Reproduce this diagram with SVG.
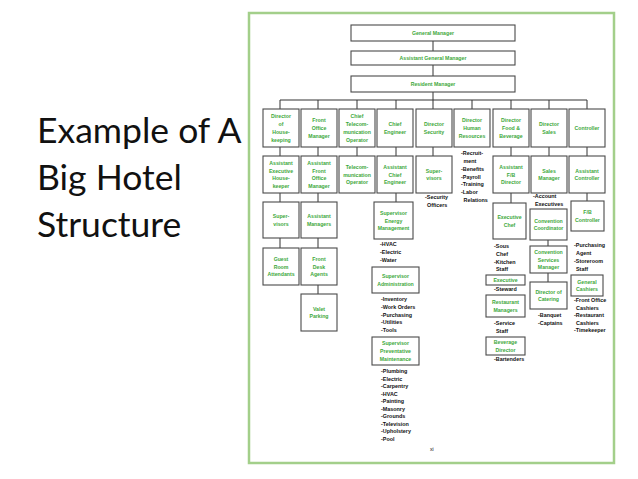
<svg xmlns="http://www.w3.org/2000/svg" width="638" height="479" viewBox="0 0 638 479">
<style>
.bx{fill:#fff;stroke:#4a4a4a;stroke-width:1.1}
.t{font-family:"Liberation Sans",Arial,sans-serif;font-size:5.2px;fill:#3da83a;text-anchor:middle;font-weight:bold}
.l{font-family:"Liberation Sans",Arial,sans-serif;font-size:5.4px;fill:#111;font-weight:bold}
.c{stroke:#333;stroke-width:1;fill:none}
.title{font-family:"Lato","Open Sans",sans-serif;font-size:35.5px;fill:#111}
</style>
<rect width="638" height="479" fill="#fff"/>
<g id="title">
<text class="title" x="37" y="143">Example of A</text>
<text class="title" x="37" y="190">Big Hotel</text>
<text class="title" x="37" y="237">Structure</text>
</g>
<rect id="frame" x="249" y="13" width="365" height="450" fill="none" stroke="#a3cf8a" stroke-width="2.5"/>
<g id="connectors">
<path class="c" d="M433 41V51M433 65V76M433 92V100M280 100H587M280 100V109M318 100V109M357 100V109M396 100V109M433 100V109M472 100V109M511 100V109M549 100V109M587 100V109"/>
<path class="c" d="M280 147V156M318 147V156M357 147V156M396 147V156M433 147V156M511 147V156M549 147V156M587 147V156"/>
<path class="c" d="M280 193V202M318 193V202M396 193V202M511 193V203M587 193V201"/>
<path class="c" d="M280 238V248M318 238V248M318 285V294M548 240V246M548 273V282"/>
</g>
<g id="gm"><rect class="bx" x="351" y="25" width="164" height="16"/><text class="t" x="433" y="35">General Manager</text></g>
<g id="agm"><rect class="bx" x="351" y="51" width="164" height="14"/><text class="t" x="433" y="60">Assistant General Manager</text></g>
<g id="rm"><rect class="bx" x="351" y="76" width="164" height="16"/><text class="t" x="433" y="86">Resident Manager</text></g>

<g id="dir-housekeeping"><rect class="bx" x="263" y="109" width="36" height="38"/><text class="t" x="281"><tspan x="281" y="118.3">Director</tspan><tspan x="281" y="126.1">of</tspan><tspan x="281" y="133.9">House-</tspan><tspan x="281" y="141.7">keeping</tspan></text></g>
<g id="fo-manager"><rect class="bx" x="301" y="109" width="36" height="38"/><text class="t"><tspan x="319" y="122.2">Front</tspan><tspan x="319" y="130">Office</tspan><tspan x="319" y="137.8">Manager</tspan></text></g>
<g id="chief-telecom"><rect class="bx" x="339" y="109" width="36" height="38"/><text class="t"><tspan x="357" y="118.3">Chief</tspan><tspan x="357" y="126.1">Telecom-</tspan><tspan x="357" y="133.9">munication</tspan><tspan x="357" y="141.7">Operator</tspan></text></g>
<g id="chief-engineer"><rect class="bx" x="377" y="109" width="36" height="38"/><text class="t"><tspan x="395" y="126.1">Chief</tspan><tspan x="395" y="133.9">Engineer</tspan></text></g>
<g id="dir-security"><rect class="bx" x="416" y="109" width="36" height="38"/><text class="t"><tspan x="434" y="126.1">Director</tspan><tspan x="434" y="133.9">Security</tspan></text></g>
<g id="dir-hr"><rect class="bx" x="454" y="109" width="36" height="38"/><text class="t"><tspan x="472" y="122.2">Director</tspan><tspan x="472" y="130">Human</tspan><tspan x="472" y="137.8">Resources</tspan></text></g>
<g id="dir-fb"><rect class="bx" x="493" y="109" width="36" height="38"/><text class="t"><tspan x="511" y="122.2">Director</tspan><tspan x="511" y="130">Food &amp;</tspan><tspan x="511" y="137.8">Beverage</tspan></text></g>
<g id="dir-sales"><rect class="bx" x="531" y="109" width="36" height="38"/><text class="t"><tspan x="549" y="126.1">Director</tspan><tspan x="549" y="133.9">Sales</tspan></text></g>
<g id="controller"><rect class="bx" x="569" y="109" width="36" height="38"/><text class="t" x="587" y="130">Controller</text></g>

<g id="asst-exec-hk"><rect class="bx" x="263" y="156" width="36" height="37"/><text class="t"><tspan x="281" y="164.8">Assistant</tspan><tspan x="281" y="172.6">Executive</tspan><tspan x="281" y="180.4">House-</tspan><tspan x="281" y="188.2">keeper</tspan></text></g>
<g id="asst-fo-manager"><rect class="bx" x="301" y="156" width="36" height="37"/><text class="t"><tspan x="319" y="164.8">Assistant</tspan><tspan x="319" y="172.6">Front</tspan><tspan x="319" y="180.4">Office</tspan><tspan x="319" y="188.2">Manager</tspan></text></g>
<g id="telecom-op"><rect class="bx" x="339" y="156" width="36" height="37"/><text class="t"><tspan x="357" y="168.7">Telecom-</tspan><tspan x="357" y="176.5">munication</tspan><tspan x="357" y="184.3">Operator</tspan></text></g>
<g id="asst-chief-eng"><rect class="bx" x="377" y="156" width="36" height="37"/><text class="t"><tspan x="395" y="168.7">Assistant</tspan><tspan x="395" y="176.5">Chief</tspan><tspan x="395" y="184.3">Engineer</tspan></text></g>
<g id="sec-supervisors"><rect class="bx" x="416" y="156" width="36" height="37"/><text class="t"><tspan x="434" y="172.6">Super-</tspan><tspan x="434" y="180.4">visors</tspan></text></g>
<g id="asst-fb"><rect class="bx" x="493" y="156" width="36" height="37"/><text class="t"><tspan x="511" y="168.7">Assistant</tspan><tspan x="511" y="176.5">F/B</tspan><tspan x="511" y="184.3">Director</tspan></text></g>
<g id="sales-manager"><rect class="bx" x="531" y="156" width="36" height="37"/><text class="t"><tspan x="549" y="172.6">Sales</tspan><tspan x="549" y="180.4">Manager</tspan></text></g>
<g id="asst-controller"><rect class="bx" x="569" y="156" width="36" height="37"/><text class="t"><tspan x="587" y="172.6">Assistant</tspan><tspan x="587" y="180.4">Controller</tspan></text></g>

<g id="hk-supervisors"><rect class="bx" x="263" y="202" width="36" height="36"/><text class="t"><tspan x="281" y="218.1">Super-</tspan><tspan x="281" y="225.9">visors</tspan></text></g>
<g id="asst-managers"><rect class="bx" x="301" y="202" width="36" height="36"/><text class="t"><tspan x="319" y="218.1">Assistant</tspan><tspan x="319" y="225.9">Managers</tspan></text></g>
<g id="sup-energy"><rect class="bx" x="374" y="202" width="39" height="37"/><text class="t"><tspan x="393.5" y="214.7">Supervisor</tspan><tspan x="393.5" y="222.5">Energy</tspan><tspan x="393.5" y="230.3">Management</tspan></text></g>
<g id="exec-chef"><rect class="bx" x="493" y="203" width="33" height="36"/><text class="t"><tspan x="509.5" y="219.1">Executive</tspan><tspan x="509.5" y="226.9">Chef</tspan></text></g>
<g id="conv-coord"><rect class="bx" x="530" y="209" width="37" height="31"/><text class="t"><tspan x="548.5" y="222.6">Convention</tspan><tspan x="548.5" y="230.4">Coordinator</tspan></text></g>
<g id="fb-controller"><rect class="bx" x="571" y="201" width="33" height="30"/><text class="t"><tspan x="587.5" y="214.1">F/B</tspan><tspan x="587.5" y="221.9">Controller</tspan></text></g>

<g id="guest-room"><rect class="bx" x="263" y="248" width="36" height="37"/><text class="t"><tspan x="281" y="260.7">Guest</tspan><tspan x="281" y="268.5">Room</tspan><tspan x="281" y="276.3">Attendants</tspan></text></g>
<g id="front-desk"><rect class="bx" x="301" y="248" width="36" height="37"/><text class="t"><tspan x="319" y="260.7">Front</tspan><tspan x="319" y="268.5">Desk</tspan><tspan x="319" y="276.3">Agents</tspan></text></g>
<g id="valet"><rect class="bx" x="301" y="294" width="36" height="37"/><text class="t"><tspan x="319" y="310.6">Valet</tspan><tspan x="319" y="318.4">Parking</tspan></text></g>

<g id="sup-admin"><rect class="bx" x="372" y="267" width="47" height="26"/><text class="t"><tspan x="395.5" y="278.1">Supervisor</tspan><tspan x="395.5" y="285.9">Administration</tspan></text></g>
<g id="sup-pm"><rect class="bx" x="372" y="337" width="47" height="28"/><text class="t"><tspan x="395.5" y="345.2">Supervisor</tspan><tspan x="395.5" y="353">Preventative</tspan><tspan x="395.5" y="360.8">Maintenance</tspan></text></g>
<g id="exec-steward"><rect class="bx" x="486" y="275" width="39" height="10"/><text class="t" x="505.5" y="282">Executive</text></g>
<g id="rest-managers"><rect class="bx" x="486" y="295" width="39" height="22"/><text class="t"><tspan x="505.5" y="304.1">Restaurant</tspan><tspan x="505.5" y="311.9">Managers</tspan></text></g>
<g id="bev-director"><rect class="bx" x="486" y="337" width="39" height="18"/><text class="t"><tspan x="505.5" y="344.1">Beverage</tspan><tspan x="505.5" y="351.9">Director</tspan></text></g>
<g id="conv-services"><rect class="bx" x="530" y="246" width="37" height="27"/><text class="t"><tspan x="548.5" y="253.7">Convention</tspan><tspan x="548.5" y="261.5">Services</tspan><tspan x="548.5" y="269.3">Manager</tspan></text></g>
<g id="dir-catering"><rect class="bx" x="530" y="282" width="37" height="27"/><text class="t"><tspan x="548.5" y="293.6">Director of</tspan><tspan x="548.5" y="301.4">Catering</tspan></text></g>
<g id="gen-cashiers"><rect class="bx" x="571" y="275" width="32" height="21"/><text class="t"><tspan x="587" y="283.6">General</tspan><tspan x="587" y="291.4">Cashiers</tspan></text></g>

<g id="lists">
<text class="l"><tspan x="380" y="246">-HVAC</tspan><tspan x="380" y="254">-Electric</tspan><tspan x="380" y="262">-Water</tspan></text>
<text class="l"><tspan x="381" y="301">-Inventory</tspan><tspan x="381" y="309">-Work Orders</tspan><tspan x="381" y="316.5">-Purchasing</tspan><tspan x="381" y="324">-Utilities</tspan><tspan x="381" y="332">-Tools</tspan></text>
<text class="l"><tspan x="381" y="373">-Plumbing</tspan><tspan x="381" y="380.6">-Electric</tspan><tspan x="381" y="388.1">-Carpentry</tspan><tspan x="381" y="395.7">-HVAC</tspan><tspan x="381" y="403.2">-Painting</tspan><tspan x="381" y="410.8">-Masonry</tspan><tspan x="381" y="418.3">-Grounds</tspan><tspan x="381" y="425.9">-Television</tspan><tspan x="381" y="433.4">-Upholstery</tspan><tspan x="381" y="441">-Pool</tspan></text>
<text class="l"><tspan x="425" y="199">-Security</tspan><tspan x="427" y="207">Officers</tspan></text>
<text class="l"><tspan x="461" y="155">-Recruit-</tspan><tspan x="463.5" y="163">ment</tspan><tspan x="461" y="171">-Benefits</tspan><tspan x="461" y="178.5">-Payroll</tspan><tspan x="461" y="186">-Training</tspan><tspan x="461" y="194">-Labor</tspan><tspan x="463.5" y="201.5">Relations</tspan></text>
<text class="l"><tspan x="494" y="248">-Sous</tspan><tspan x="496" y="256">Chef</tspan><tspan x="494" y="263.5">-Kitchen</tspan><tspan x="496" y="271">Staff</tspan></text>
<text class="l" x="494" y="291">-Steward</text>
<text class="l"><tspan x="494" y="325">-Service</tspan><tspan x="496" y="333">Staff</tspan></text>
<text class="l" x="494" y="361">-Bartenders</text>
<text class="l"><tspan x="533" y="198">-Account</tspan><tspan x="535" y="206">Executives</tspan></text>
<text class="l"><tspan x="538" y="317">-Banquet</tspan><tspan x="538" y="325">-Captains</tspan></text>
<text class="l"><tspan x="574" y="247">-Purchasing</tspan><tspan x="576" y="255">Agent</tspan><tspan x="574" y="263">-Storeroom</tspan><tspan x="576" y="270.5">Staff</tspan></text>
<text class="l"><tspan x="574" y="302">-Front Office</tspan><tspan x="576" y="309.5">Cashiers</tspan><tspan x="574" y="317">-Restaurant</tspan><tspan x="576" y="324.5">Cashiers</tspan><tspan x="574" y="332">-Timekeeper</tspan></text>
</g>
<text class="l" x="430" y="451" style="font-size:5px;font-weight:normal">xi</text>
</svg>
